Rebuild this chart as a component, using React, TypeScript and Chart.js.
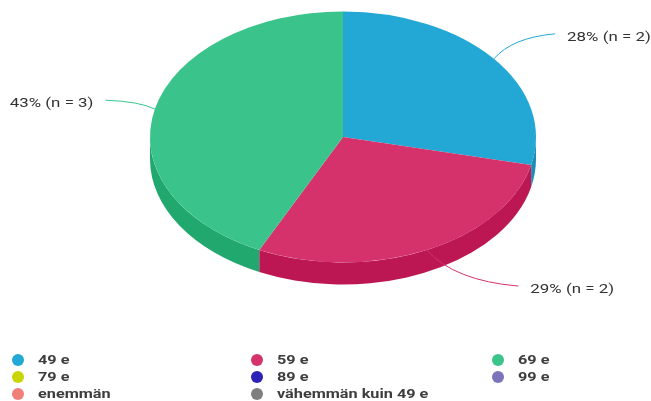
import React, { useEffect, useRef } from 'react';
import { Chart, registerables } from 'chart.js';

Chart.register(...registerables);

// ---- data ----
const CATEGORIES = ['49 e', '59 e', '69 e', '79 e', '89 e', '99 e', 'enemmän', 'vähemmän kuin 49 e'];
const COUNTS = [2, 2, 3, 0, 0, 0, 0, 0];
const PERCENTS = [28, 29, 43, 0, 0, 0, 0, 0];

// ---- styles ----
const COLORS = ['#23a8d5', '#d5326c', '#3ac48b', '#c9d500', '#2b22b6', '#7b74ba', '#ef7f78', '#7f7f7f'];
const SIDE_COLORS = ['#1b8db6', '#bc1752', '#21a86e', '#aab500', '#221c99', '#67609e', '#cc6a64', '#6a6a6a'];
const TILT = 0.65;
const DEPTH = 22;
const STRETCH = 1.3;
const TEXT_COLOR = '#333333';
const LEGEND_COLOR = '#3d3d3d';

function stretchedText(ctx: CanvasRenderingContext2D, text: string, x: number, y: number, align: CanvasTextAlign) {
  ctx.save();
  ctx.translate(x, y);
  ctx.scale(STRETCH, 1);
  ctx.textAlign = align;
  ctx.textBaseline = 'middle';
  ctx.fillText(text, 0, 0);
  ctx.restore();
}

const pie3d = {
  id: 'pie3d',
  beforeDatasetsDraw(chart: any) {
    const meta = chart.getDatasetMeta(0);
    const arcs = meta.data;
    if (!arcs.length) return;
    const { x: cx, y: cy, outerRadius: r } = arcs[0].getProps(['x', 'y', 'outerRadius'], true);
    const rx = r;
    const ry = r * TILT;
    const ctx: CanvasRenderingContext2D = chart.ctx;
    arcs.forEach((arc: any, i: number) => {
      const { startAngle, endAngle } = arc.getProps(['startAngle', 'endAngle'], true);
      const a = Math.max(startAngle, 0);
      const b = Math.min(endAngle, Math.PI);
      if (b - a <= 1e-6) return;
      ctx.save();
      ctx.beginPath();
      ctx.ellipse(cx, cy, rx, ry, 0, a, b, false);
      ctx.ellipse(cx, cy + DEPTH, rx, ry, 0, b, a, true);
      ctx.closePath();
      ctx.fillStyle = SIDE_COLORS[i];
      ctx.fill();
      ctx.restore();
    });
    ctx.save();
    ctx.translate(0, cy);
    ctx.scale(1, TILT);
    ctx.translate(0, -cy);
  },
  afterDatasetsDraw(chart: any) {
    const ctx: CanvasRenderingContext2D = chart.ctx;
    ctx.restore();
    const meta = chart.getDatasetMeta(0);
    const arcs = meta.data;
    if (!arcs.length) return;
    arcs.forEach((arc: any, i: number) => {
      if (!COUNTS[i]) return;
      const { x: cx, y: cy, outerRadius: r, startAngle, endAngle } = arc.getProps(
        ['x', 'y', 'outerRadius', 'startAngle', 'endAngle'],
        true
      );
      const rx = r;
      const ry = r * TILT;
      const mid = (startAngle + endAngle) / 2;
      const c = Math.cos(mid);
      const s = Math.sin(mid);
      const sign = c >= 0 ? 1 : -1;
      const sx = cx + rx * c;
      const sy = cy + ry * s;
      const ex = cx + sign * (rx + 48) * Math.sqrt(1 - 0.58 * s * s);
      const ey = cy + (ry + 40) * s;
      const kx = sx + (ex - sx) * 0.3;
      const ky = ey - (ey - sy) * 0.15;
      ctx.save();
      ctx.beginPath();
      ctx.moveTo(sx, sy);
      ctx.quadraticCurveTo(kx, ky, ex, ey);
      ctx.strokeStyle = COLORS[i];
      ctx.lineWidth = 1;
      ctx.stroke();
      ctx.fillStyle = TEXT_COLOR;
      ctx.font = '13px Roboto';
      stretchedText(ctx, `${PERCENTS[i]}% (n = ${COUNTS[i]})`, ex + sign * 12, ey + 4, sign > 0 ? 'left' : 'right');
      ctx.restore();
    });
  },
  afterDraw(chart: any) {
    const ctx: CanvasRenderingContext2D = chart.ctx;
    const labels: string[] = chart.data.labels;
    const colors: string[] = chart.data.datasets[0].backgroundColor;
    const colX = [18, 257, 498];
    const rowY = [360, 377, 394];
    ctx.save();
    labels.forEach((label, i) => {
      const col = i % 3;
      const row = Math.floor(i / 3);
      const x = colX[col];
      const y = rowY[row];
      ctx.beginPath();
      ctx.arc(x, y, 6, 0, Math.PI * 2);
      ctx.fillStyle = colors[i];
      ctx.fill();
      ctx.fillStyle = LEGEND_COLOR;
      ctx.font = 'bold 12.5px Roboto';
      stretchedText(ctx, label, x + 20, y + 0.5, 'left');
    });
    ctx.restore();
  },
};

export default function App() {
  const canvasRef = useRef<HTMLCanvasElement | null>(null);

  useEffect(() => {
    document.body.style.margin = '0';
    const canvas = canvasRef.current;
    if (!canvas) return;
    const chart = new Chart(canvas, {
      type: 'pie',
      data: {
        labels: CATEGORIES,
        datasets: [
          {
            data: COUNTS,
            backgroundColor: COLORS,
            borderWidth: 0,
            radius: 193,
            clip: false,
          } as any,
        ],
      },
      options: {
        animation: false,
        responsive: true,
        maintainAspectRatio: false,
        events: [],
        layout: { padding: { left: 150, right: 115, top: 12, bottom: 139 } },
        plugins: {
          legend: { display: false },
          tooltip: { enabled: false },
          title: { display: false },
        },
      },
      plugins: [pie3d],
    });
    return () => chart.destroy();
  }, []);

  return (
    <div style={{ width: 651, height: 401, position: 'relative', background: '#fff' }}>
      <canvas ref={canvasRef} />
    </div>
  );
}
